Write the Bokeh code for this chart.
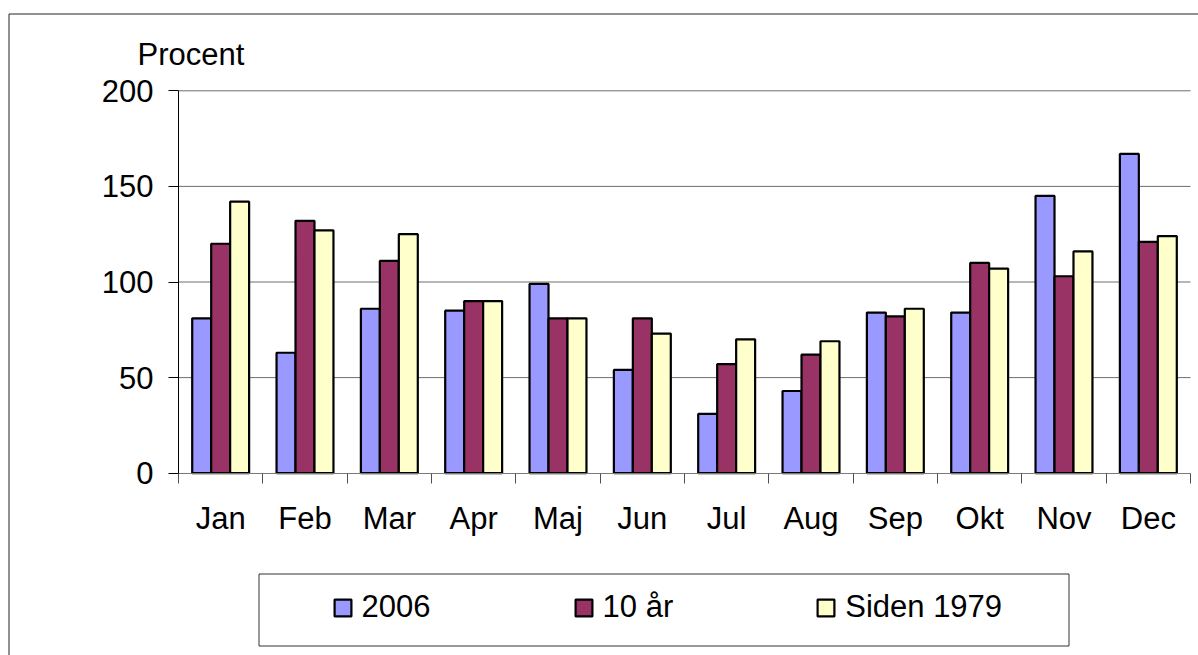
from bokeh.plotting import figure
from bokeh.models import (Range1d, FixedTicker, LinearAxis, Legend, LegendItem, Label,
                          BoxAnnotation, ColumnDataSource)
from bokeh.transform import dodge
from bokeh.embed import file_html
from bokeh.resources import INLINE

months = ["Jan", "Feb", "Mar", "Apr", "Maj", "Jun", "Jul", "Aug", "Sep", "Okt", "Nov", "Dec"]
series_names = ["2006", "10 år", "Siden 1979"]
v2006 = [81, 63, 86, 85, 99, 54, 31, 43, 84, 84, 145, 167]
v10aar = [120, 132, 111, 90, 81, 81, 57, 62, 82, 110, 103, 121]
vsiden = [142, 127, 125, 90, 81, 73, 70, 69, 86, 107, 116, 124]
y_ticks = [0, 50, 100, 150, 200]
y_label = "Procent"

colors = ["#9999FF", "#993366", "#FFFFCC"]
FONT = "Liberation Sans"
FS = "31px"

W, H = 1198, 655
# plot area in canvas pixels
PL, PR, PT, PB = 178.0, 1190.0, 90.3, 472.7
n = len(months)
xpx = (PR - PL) / n
ypx = (PB - PT) / (y_ticks[-1] - y_ticks[0])

centers = [i + 0.5 for i in range(n)]
bounds = [i for i in range(n + 1)]

p = figure(width=W, height=H,
           x_range=Range1d(-PL / xpx, n + (W - PR) / xpx),
           y_range=Range1d(-(H - PB) / ypx, y_ticks[-1] + PT / ypx),
           output_backend="svg", toolbar_location=None,
           x_axis_location=None, y_axis_location=None,
           min_border=0, min_border_left=0, min_border_right=0,
           min_border_top=0, min_border_bottom=0,
           background_fill_color="white", border_fill_color="white", outline_line_color=None)
p.xgrid.visible = False
p.ygrid.visible = False

# horizontal gridlines across the plot area
p.segment(x0=[0] * (len(y_ticks) - 1), x1=[n] * (len(y_ticks) - 1),
          y0=y_ticks[1:], y1=y_ticks[1:], line_color="#6e6e6e", line_width=1)

# axes (fixed inside the frame)
yaxis = LinearAxis(ticker=FixedTicker(ticks=y_ticks, minor_ticks=[]), fixed_location=0,
                   bounds=(y_ticks[0], y_ticks[-1]))
yaxis.axis_line_color = "black"
yaxis.axis_line_width = 1
yaxis.major_tick_line_color = "black"
yaxis.major_tick_out = 10
yaxis.major_tick_in = 0
yaxis.minor_tick_line_color = None
yaxis.major_label_standoff = 15
yaxis.major_label_text_font = FONT
yaxis.major_label_text_font_size = FS
yaxis.major_label_text_color = "black"
p.add_layout(yaxis, "left")

src = ColumnDataSource(dict(xc=centers, s0=v2006, s1=v10aar, s2=vsiden))
offsets = [-0.225, 0.0, 0.225]
renderers = []
for k, col in enumerate(["s0", "s1", "s2"]):
    r = p.vbar(x=dodge("xc", offsets[k], range=p.x_range), top=col, bottom=0, width=0.225,
               source=src, fill_color=colors[k], line_color="black", line_width=2.2)
    renderers.append(r)

xaxis = LinearAxis(ticker=FixedTicker(ticks=centers, minor_ticks=bounds), fixed_location=0,
                   bounds=(0, n))
xaxis.major_label_overrides = {c: m for c, m in zip(centers, months)}
xaxis.axis_line_color = "#7a7a7a"
xaxis.axis_line_width = 1
xaxis.major_tick_line_color = None
xaxis.major_tick_out = 0
xaxis.major_tick_in = 0
xaxis.minor_tick_line_color = "#505050"
xaxis.minor_tick_out = 10
xaxis.minor_tick_in = 0
xaxis.major_label_standoff = 18
xaxis.major_label_text_font = FONT
xaxis.major_label_text_font_size = FS
xaxis.major_label_text_color = "black"
p.add_layout(xaxis, "below")

legend = Legend(items=[LegendItem(label=nm, renderers=[r]) for nm, r in zip(series_names, renderers)],
                orientation="horizontal", location=(331.6, 29.7),
                spacing=142, label_standoff=9, glyph_width=21, glyph_height=21,
                padding=0, margin=0, border_line_alpha=0, background_fill_alpha=0,
                label_text_font=FONT, label_text_font_size=FS, label_text_color="black")
p.add_layout(legend, "center")

# legend frame
p.add_layout(BoxAnnotation(left=258.5, right=1068.5, top=573.5, bottom=645.5,
                           left_units="canvas", right_units="canvas",
                           top_units="canvas", bottom_units="canvas",
                           fill_color=None, fill_alpha=0, line_color="#333333",
                           line_alpha=1.0, line_width=1))
# outer chart frame
p.add_layout(BoxAnnotation(left=8.5, right=3000, top=13.5, bottom=3000,
                           left_units="canvas", right_units="canvas",
                           top_units="canvas", bottom_units="canvas",
                           fill_color=None, fill_alpha=0, line_color="#222222",
                           line_alpha=1.0, line_width=1))

p.add_layout(Label(x=137, y=53.7, x_units="canvas", y_units="canvas", text=y_label,
                   text_font=FONT, text_font_size=FS, text_color="black",
                   text_baseline="alphabetic", text_align="left"))

open("out.html", "w").write(file_html(p, INLINE))
